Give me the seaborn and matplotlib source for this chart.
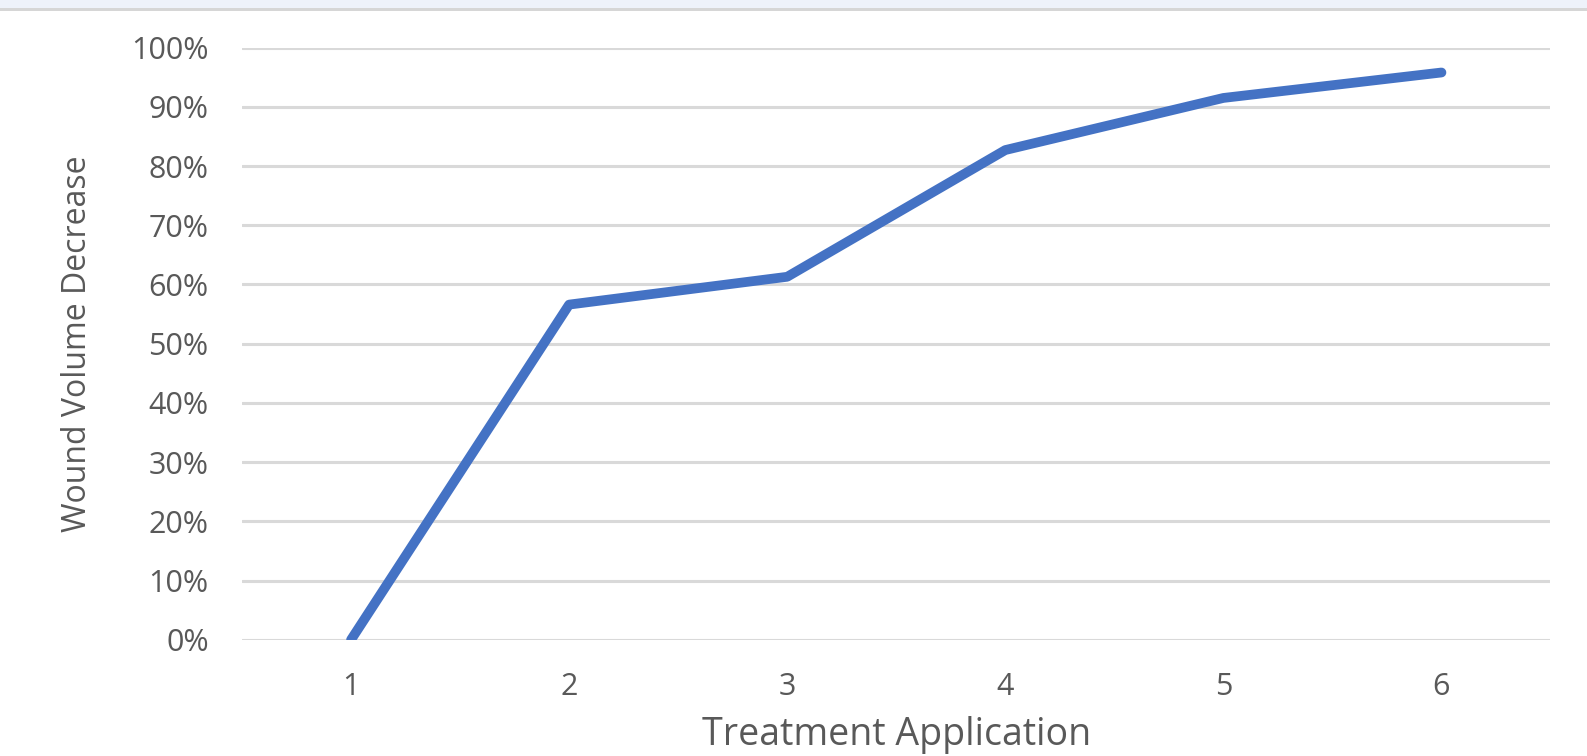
import matplotlib
matplotlib.use("Agg")
import matplotlib.pyplot as plt
import matplotlib.patches as mpatches
from matplotlib.ticker import PercentFormatter
import pandas as pd
import seaborn as sns

sns.set_theme(style="white")
plt.rcParams['font.family'] = ['Open Sans', 'DejaVu Sans']

# Data
applications = [1, 2, 3, 4, 5, 6]
volume_decrease = [0.0, 0.566, 0.613, 0.827, 0.915, 0.958]

df = pd.DataFrame({'Treatment Application': applications,
                   'Wound Volume Decrease': volume_decrease})

text_grey = '#595959'
grid_grey = '#D9D9D9'
line_blue = '#4472C4'

fig = plt.figure(figsize=(15.87, 7.56), dpi=100)
ax = fig.add_axes([0.1525, 0.1538, 0.8245, 0.7832])

# window strip at the top of the screenshot
fig.patches.append(mpatches.Rectangle((0, 1 - 8 / 756), 1, 8 / 756, transform=fig.transFigure,
                                      facecolor='#EEF2FA', edgecolor='none', zorder=0))
fig.patches.append(mpatches.Rectangle((0, 1 - 11 / 756), 1, 3 / 756, transform=fig.transFigure,
                                      facecolor='#D6D6D6', edgecolor='none', zorder=0))

sns.lineplot(data=df, x='Treatment Application', y='Wound Volume Decrease', ax=ax,
             color=line_blue, linewidth=7, solid_capstyle='round', zorder=3)

ax.set_xlim(0.5, 6.5)
ax.set_ylim(0, 1)
ax.set_xticks(applications)
ax.set_yticks([i / 10 for i in range(11)])
ax.yaxis.set_major_formatter(PercentFormatter(1.0, decimals=0))
ax.grid(axis='y', color=grid_grey, linewidth=2.2)
ax.grid(axis='x', visible=False)
ax.set_axisbelow(True)
for s in ax.spines.values():
    s.set_visible(False)

ax.tick_params(axis='both', length=0, labelsize=22, labelcolor=text_grey)
ax.tick_params(axis='x', pad=23)
ax.tick_params(axis='y', pad=24)

ax.set_xlabel('Treatment Application', fontsize=27, color=text_grey)
ax.set_ylabel('Wound Volume Decrease', fontsize=23, color=text_grey)
ax.xaxis.label.set_va('center')
ax.yaxis.label.set_va('center')
ax.xaxis.set_label_coords(0.5, -(735 - 640) / 592)
ax.yaxis.set_label_coords((77 - 242) / 1309, 0.5)

fig.savefig('out.png', dpi=100)
